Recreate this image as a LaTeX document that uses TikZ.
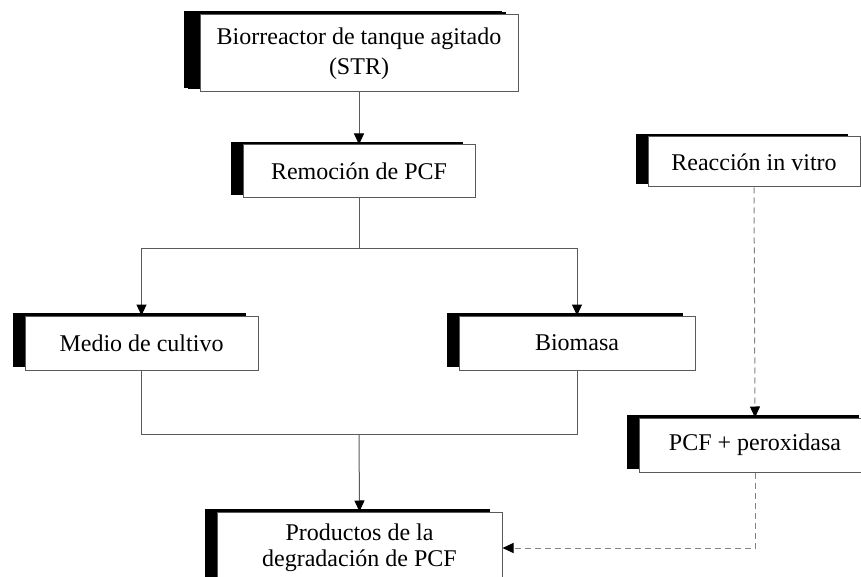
\documentclass[tikz,border=0pt]{standalone}
\usepackage{fontspec}
\setmainfont{Liberation Serif}
\usetikzlibrary{arrows.meta,positioning,shadows}
\definecolor{linegray}{RGB}{90,90,90}
\definecolor{dashgray}{RGB}{130,130,130}

\begin{document}
\begin{tikzpicture}[x=1pt,y=-1pt,
      caja/.style={draw=linegray,line width=1pt,fill=white,align=center,inner sep=0pt,
        font=\fontsize{24}{30}\selectfont,
        general shadow={fill=black,shadow xshift=-12pt,shadow yshift=3pt}},
      flecha/.style={line width=1pt,draw=linegray,-{Triangle[length=11pt,width=10pt,color=black]}},
      linea/.style={line width=1pt,draw=linegray},
      discont/.style={line width=1pt,draw=dashgray,dash pattern=on 6pt off 4pt}]
      \clip (0,0) rectangle (861,577);
      \node[caja,minimum width=318pt,minimum height=77pt,
        general shadow={fill=black,shadow xshift=-16pt,shadow yshift=4pt}] (bio) at (359,53.5)
        {Biorreactor de tanque agitado\\(STR)};
      \node[caja,minimum width=232pt,minimum height=53pt] (rem) at (359,171.5) {Remoción de PCF};
      \node[caja,minimum width=212pt,minimum height=50pt] (rea) at (754,162) {Reacción in vitro};
      \node[caja,minimum width=233pt,minimum height=54pt] (med) at (141.5,343) {Medio de cultivo};
      \node[caja,minimum width=236pt,minimum height=54pt] (bms) at (577,343) {Biomasa};
      \node[caja,minimum width=232pt,minimum height=54pt] (pcf) at (755,445) {PCF + peroxidasa};
      \node[caja,minimum width=285pt,minimum height=72pt,
        font=\fontsize{24}{25.5}\selectfont] (pro) at (359.5,548)
        {Productos de la\\degradación de PCF};
      \coordinate (split) at (359,248);
      \coordinate (join) at (359,434);
      % flujo principal
      \draw[flecha] (bio) -- (rem);
      \draw[linea] (rem.south) -- (split);
      \draw[flecha] (split) -| (med.north);
      \draw[flecha] (split) -| (bms.north);
      \draw[linea] (med.south) |- (join);
      \draw[linea] (bms.south) |- (join);
      \draw[flecha] (join) -- (pro.north);
      % reaccion in vitro
      \draw[discont,-{Triangle[length=11pt,width=10pt,color=black]}] (rea.south) -- (pcf.north);
      \draw[discont,-{Triangle[length=11pt,width=10pt,color=black]}] (pcf.south) |- (pro.east);
    \end{tikzpicture}
\end{document}
